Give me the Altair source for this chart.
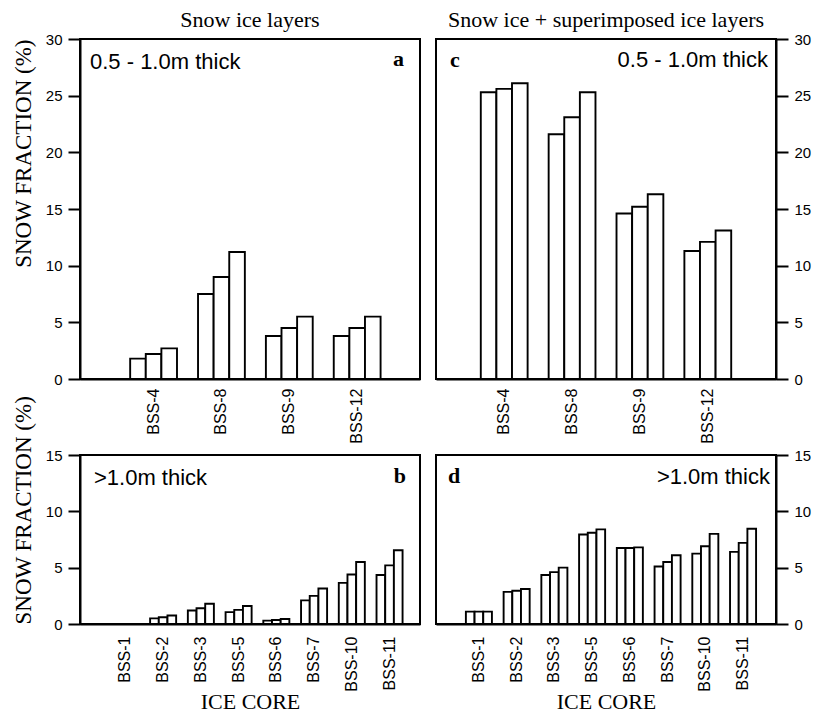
import altair as alt
import pandas as pd

# ---- data ----
cores_top = ["BSS-4", "BSS-8", "BSS-9", "BSS-12"]
cores_bottom = ["BSS-1", "BSS-2", "BSS-3", "BSS-5", "BSS-6", "BSS-7", "BSS-10", "BSS-11"]
bar_ids = ["1", "2", "3"]

# panel a: snow ice layers, 0.5 - 1.0 m thick
a_bar1 = [1.8, 7.5, 3.8, 3.8]
a_bar2 = [2.2, 9.0, 4.5, 4.5]
a_bar3 = [2.7, 11.2, 5.5, 5.5]

# panel c: snow ice + superimposed ice, 0.5 - 1.0 m thick
c_bar1 = [25.3, 21.6, 14.6, 11.3]
c_bar2 = [25.6, 23.1, 15.2, 12.1]
c_bar3 = [26.1, 25.3, 16.3, 13.1]

# panel b: snow ice layers, >1.0 m thick
b_bar1 = [0.0, 0.5, 1.2, 1.05, 0.3, 2.1, 3.65, 4.35]
b_bar2 = [0.0, 0.6, 1.4, 1.25, 0.35, 2.5, 4.4, 5.2]
b_bar3 = [0.0, 0.75, 1.8, 1.6, 0.45, 3.15, 5.5, 6.55]

# panel d: snow ice + superimposed ice, >1.0 m thick
d_bar1 = [1.1, 2.85, 4.35, 7.95, 6.75, 5.1, 6.25, 6.4]
d_bar2 = [1.1, 2.95, 4.6, 8.1, 6.75, 5.5, 6.9, 7.2]
d_bar3 = [1.1, 3.1, 5.0, 8.4, 6.8, 6.1, 8.0, 8.45]

ticks_top = [0, 5, 10, 15, 20, 25, 30]
ticks_bottom = [0, 5, 10, 15]

SERIF = "Liberation Serif"
SANS = "Liberation Sans"
W = 340
H_TOP = 340
H_BOT = 169


def long_df(cores, s1, s2, s3):
    rows = []
    for core, v1, v2, v3 in zip(cores, s1, s2, s3):
        for b, v in zip(bar_ids, (v1, v2, v3)):
            rows.append({"core": core, "bar": b, "value": v})
    return pd.DataFrame(rows)


def text_layer(text, x, y, align, font, size, weight="normal"):
    return alt.Chart(pd.DataFrame({"t": [text]})).mark_text(
        align=align, baseline="alphabetic", font=font, fontSize=size,
        fontWeight=weight, color="black"
    ).encode(text="t:N", x=alt.value(x), y=alt.value(y))


def panel(df, cores, ymax, yticks, y_orient, y_title, title_anchor,
          x_title, label_pad, height, texts, band_align, title=None):
    x_axis_kw = dict(labelAngle=-90, ticks=False, labelPadding=label_pad,
                     labelFontSize=16)
    if x_title:
        x_axis_kw.update(title=x_title, titleFont=SERIF, titleFontSize=22,
                         titleFontWeight="normal", titlePadding=0)
    else:
        x_axis_kw.update(title=None)
    y_axis_kw = dict(orient=y_orient, values=yticks, tickSize=12,
                     labelPadding=6, labelFontSize=15)
    if y_title:
        y_axis_kw.update(title=y_title, titleFont=SERIF, titleFontSize=23,
                         titleFontWeight="normal", titleAnchor=title_anchor,
                         titlePadding=10)
    else:
        y_axis_kw.update(title=None)

    bars = alt.Chart(df).mark_bar(
        fill="white", stroke="black", strokeWidth=1.9
    ).encode(
        x=alt.X("core:N", sort=cores,
                scale=alt.Scale(domain=cores, paddingInner=0.31,
                                paddingOuter=0.66, align=band_align),
                axis=alt.Axis(**x_axis_kw)),
        xOffset=alt.XOffset("bar:N", sort=bar_ids,
                            scale=alt.Scale(domain=bar_ids, paddingInner=0, paddingOuter=0)),
        y=alt.Y("value:Q", scale=alt.Scale(domain=[0, ymax], nice=False),
                axis=alt.Axis(**y_axis_kw)),
    )
    props = dict(width=W, height=height)
    if title:
        props["title"] = alt.TitleParams(
            text=title, font=SERIF, fontSize=22, fontWeight="normal",
            anchor="middle", frame="group", offset=0, color="black")
    return alt.layer(bars, *texts).properties(**props).resolve_scale(
        x="independent", xOffset="independent")


pa = panel(long_df(cores_top, a_bar1, a_bar2, a_bar3), cores_top, 30, ticks_top,
           "left", "SNOW FRACTION (%)", "end", None, 9, H_TOP,
           [text_layer("0.5 - 1.0m thick", 10, 30, "left", SANS, 22),
            text_layer("a", 324, 27, "right", SERIF, 22, "bold")],
           0.56, title="Snow ice layers")

pc = panel(long_df(cores_top, c_bar1, c_bar2, c_bar3), cores_top, 30, ticks_top,
           "right", None, "end", None, 9, H_TOP,
           [text_layer("c", 14, 28, "left", SERIF, 22, "bold"),
            text_layer("0.5 - 1.0m thick", 332, 28, "right", SANS, 22)],
           0.5, title="Snow ice + superimposed ice layers")

pb = panel(long_df(cores_bottom, b_bar1, b_bar2, b_bar3), cores_bottom, 15, ticks_bottom,
           "left", "SNOW FRACTION (%)", "start", "ICE CORE", 12, H_BOT,
           [text_layer(">1.0m thick", 14, 30, "left", SANS, 22),
            text_layer("b", 326, 28, "right", SERIF, 22, "bold")],
           0.65)

pd_ = panel(long_df(cores_bottom, d_bar1, d_bar2, d_bar3), cores_bottom, 15, ticks_bottom,
            "right", None, "start", "ICE CORE", 12, H_BOT,
            [text_layer("d", 12, 28, "left", SERIF, 22, "bold"),
             text_layer(">1.0m thick", 334, 29, "right", SANS, 22)],
            0.6)

chart = alt.concat(
    pa, pc, pb, pd_, columns=2, bounds="flush",
    spacing={"row": 76, "column": 16}
).resolve_scale(
    x="independent", xOffset="independent", y="independent"
).properties(
    padding={"left": 11, "top": 8, "right": 0, "bottom": 0},
    background="white",
).configure_view(
    stroke="black", strokeWidth=2
).configure_axis(
    domainColor="black", domainWidth=2, tickColor="black", tickWidth=2,
    labelColor="black", labelFont=SANS, titleColor="black", grid=False
)

chart.save("out.html", embed_options={"renderer": "svg", "actions": False})
